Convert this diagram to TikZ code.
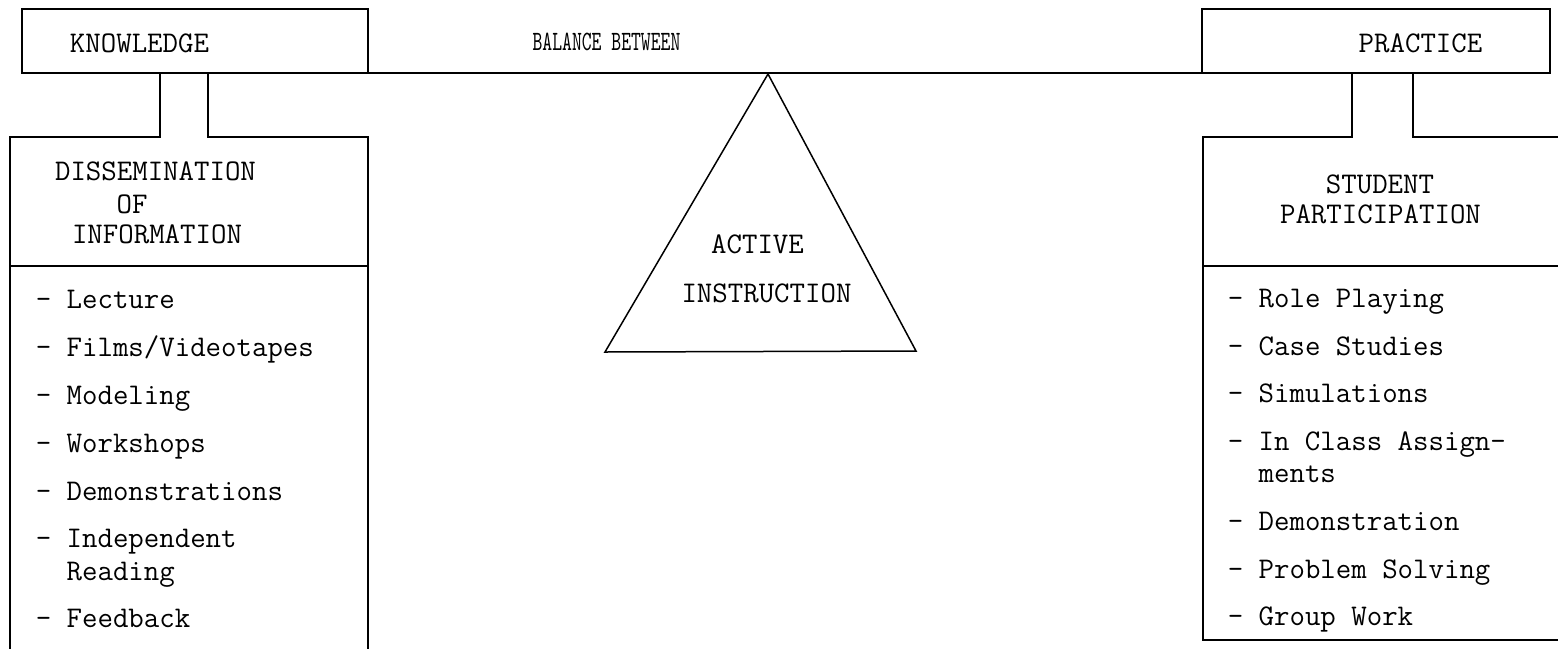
\documentclass[tikz,border=0pt]{standalone}
\usepackage{fontspec}
\newfontfamily\narrowtt{lmmono10-regular.otf}[FakeStretch=0.67]

\begin{document}
\begin{tikzpicture}[x=1pt,y=-1pt,line width=1.5pt,
    label/.style={font=\ttfamily\fontsize{30}{33}\selectfont,inner sep=0pt,anchor=base},
    item/.style={font=\ttfamily\fontsize{30}{33}\selectfont,inner sep=0pt,anchor=base west}]
    \useasboundingbox (0,0) rectangle (1558,649);

    % Corner points of the beam and the boxes
    \coordinate (kTL) at (22,9);
    \coordinate (kBR) at (368,73);
    \coordinate (pTL) at (1202,9);
    \coordinate (pBR) at (1550,73);
    \coordinate (pBL) at (1202,73);

    % Draw the two end boxes and the beam between them
    \draw (kTL) rectangle (kBR);
    \draw (pTL) rectangle (pBR);
    \draw (kBR) -- (pBL);

    % Draw the fulcrum (triangle)
    \coordinate (apex) at (768,74);
    \draw (apex) -- (605,352) -- (916,351) -- cycle;

    % Left stem and box (open at the bottom)
    \draw (160,73) -- (160,137) -- (10,137) -- (10,649);
    \draw (208,73) -- (208,137) -- (368,137) -- (368,649);
    \draw (10,266) -- (368,266);

    % Right stem and box (runs off the right edge)
    \draw (1352,73) -- (1352,137) -- (1203,137) -- (1203,640) -- (1558,640);
    \draw (1413,73) -- (1413,137) -- (1558,137);
    \draw (1203,266) -- (1558,266);

    % Labels on the beam
    \node[label] (know) at (139.5,52) {KNOWLEDGE};
    \node[label] (prac) at (1420.5,52) {PRACTICE};
    \node[label,font=\narrowtt\fontsize{28}{30}\selectfont] (bal) at (606.5,50) {BALANCE BETWEEN};

    % Label in the triangle
    \node[label] (act) at (757.5,253) {ACTIVE};
    \node[label] (instr) at (766.5,302) {INSTRUCTION};

    % Left box headings
    \node[label] (diss) at (155.5,180) {DISSEMINATION};
    \node[label] (of) at (132,213) {OF};
    \node[label] (info) at (157,243) {INFORMATION};

    % Right box headings
    \node[label] (stud) at (1380,193) {STUDENT};
    \node[label] (part) at (1380.5,223) {PARTICIPATION};

    % Left list
    \node[item] (l1) at (35,308) {- Lecture};
    \node[item] (l2) at (35,356) {- Films/Videotapes};
    \node[item] (l3) at (35,404) {- Modeling};
    \node[item] (l4) at (35,452) {- Workshops};
    \node[item] (l5) at (35,500) {- Demonstrations};
    \node[item] (l6) at (35,547) {- Independent};
    \node[item] (l6b) at (35,580) {\hphantom{- }Reading};
    \node[item] (l7) at (35,627) {- Feedback};

    % Right list
    \node[item] (r1) at (1227,307) {- Role Playing};
    \node[item] (r2) at (1227,355) {- Case Studies};
    \node[item] (r3) at (1227,402) {- Simulations};
    \node[item] (r4) at (1227,450) {- In Class Assign-};
    \node[item] (r4b) at (1227,482) {\hphantom{- }ments};
    \node[item] (r5) at (1227,530) {- Demonstration};
    \node[item] (r6) at (1227,578) {- Problem Solving};
    \node[item] (r7) at (1227,625) {- Group Work};
\end{tikzpicture}
\end{document}
